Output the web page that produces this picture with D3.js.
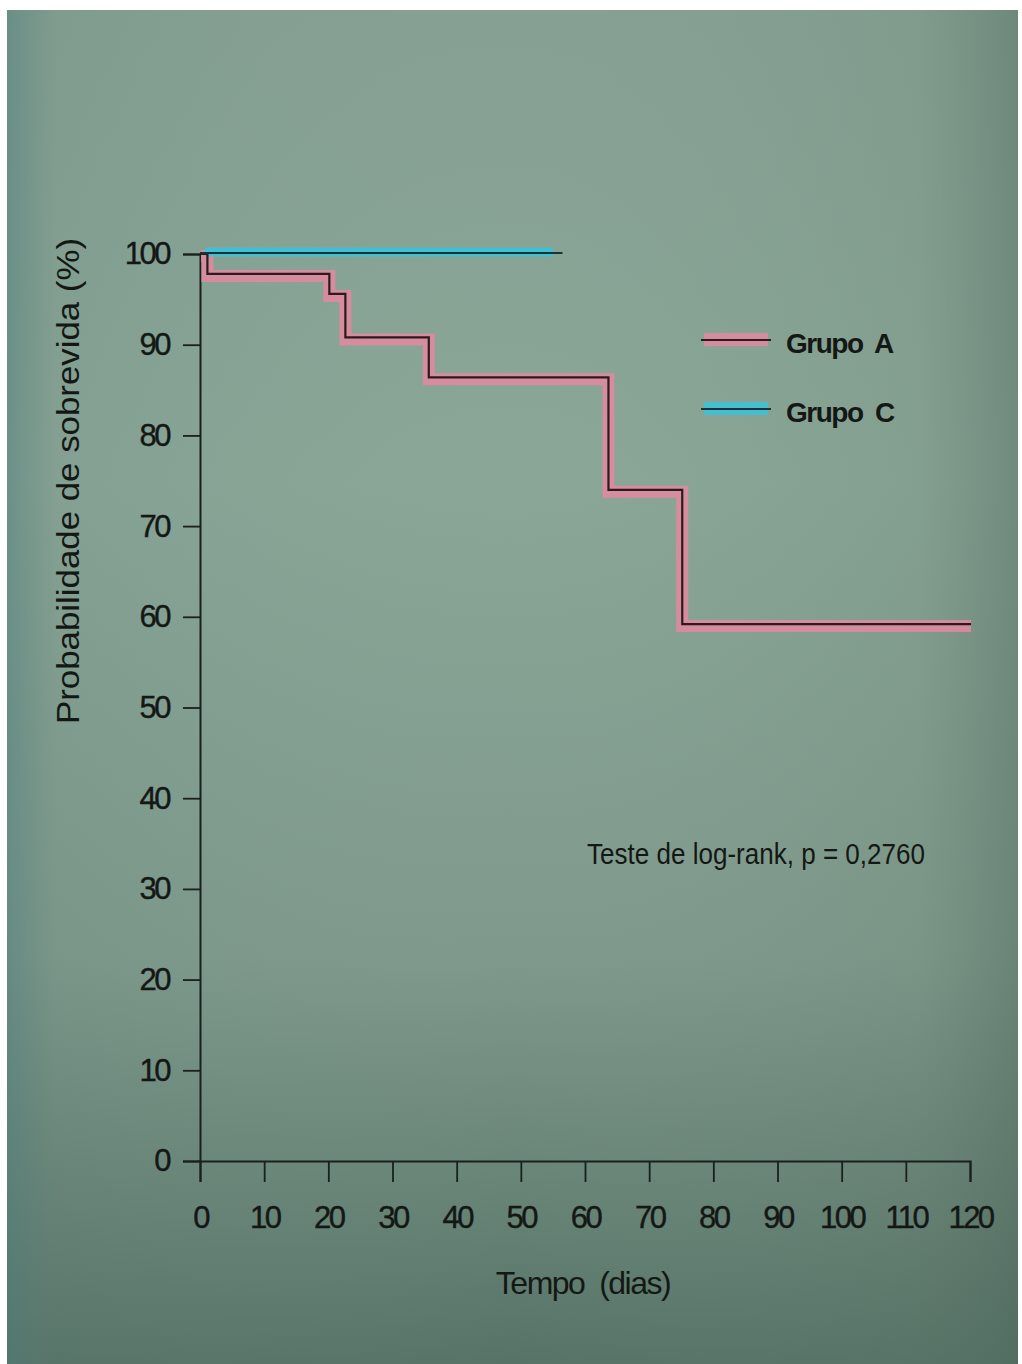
<!DOCTYPE html>
<html>
<head>
<meta charset="utf-8">
<script src="https://cdn.jsdelivr.net/npm/d3@7"></script>
<style>
body{margin:0;background:#fff;}
svg{display:block;}
text{font-family:"Liberation Sans",Arial,sans-serif;fill:#141815;}
</style>
</head>
<body>
<div id="chart"></div>
<script>
// survival data
var groupNames = ["Grupo  A", "Grupo  C"];
var timesA = [0, 1, 20, 22.5, 35.5, 63.5, 75, 120];
var survA = [100, 97.8, 95.6, 90.8, 86.4, 74.0, 59.2, 59.2];
var timesC = [0, 56.5];
var survC = [100, 100];
var xTicks = [0, 10, 20, 30, 40, 50, 60, 70, 80, 90, 100, 110, 120];
var yTicks = [0, 10, 20, 30, 40, 50, 60, 70, 80, 90, 100];
var xTitle = "Tempo  (dias)";
var yTitle = "Probabilidade de sobrevida (%)";
var pText = "Teste de log-rank, p = 0,2760";

var w = 1022, h = 1364;

var svg = d3.select("#chart").append("svg")
    .attr("width", w)
    .attr("height", h);

var defs = svg.append("defs");

var vg = defs.append("linearGradient").attr("id", "vgrad")
    .attr("x1", 0).attr("y1", 0).attr("x2", 0).attr("y2", 1);
vg.append("stop").attr("offset", "0%").attr("stop-color", "#86a193");
vg.append("stop").attr("offset", "35%").attr("stop-color", "#8aa697");
vg.append("stop").attr("offset", "70%").attr("stop-color", "#7f9a8c");
vg.append("stop").attr("offset", "100%").attr("stop-color", "#577367");

var hg = defs.append("linearGradient").attr("id", "hgrad")
    .attr("x1", 0).attr("y1", 0).attr("x2", 1).attr("y2", 0);
hg.append("stop").attr("offset", "0%").attr("stop-color", "#4d7a78").attr("stop-opacity", 0.5);
hg.append("stop").attr("offset", "5%").attr("stop-color", "#5f8078").attr("stop-opacity", 0.15);
hg.append("stop").attr("offset", "50%").attr("stop-color", "#8aa698").attr("stop-opacity", 0);
hg.append("stop").attr("offset", "90%").attr("stop-color", "#58705f").attr("stop-opacity", 0.12);
hg.append("stop").attr("offset", "100%").attr("stop-color", "#4a6258").attr("stop-opacity", 0.4);

svg.append("rect")
    .attr("x", 7).attr("y", 10)
    .attr("width", w - 11).attr("height", h - 10)
    .attr("fill", "url(#vgrad)");
svg.append("rect")
    .attr("x", 7).attr("y", 10)
    .attr("width", w - 11).attr("height", h - 10)
    .attr("fill", "url(#hgrad)");

var x = d3.scaleLinear().domain([0, 120]).range([200, 970]);
var y = d3.scaleLinear().domain([0, 100]).range([1161, 254]);

var line = d3.line()
    .x(function(d){ return x(d[0]); })
    .y(function(d){ return y(d[1]); })
    .curve(d3.curveStepAfter);

var dataA = timesA.map(function(t, i){ return [t, survA[i]]; });
var dataC = timesC.map(function(t, i){ return [t, survC[i]]; });

// axes
var xAxis = svg.append("g")
    .attr("transform", "translate(0," + y(0) + ")")
    .call(d3.axisBottom(x).tickValues(xTicks).tickSize(21).tickPadding(24));

var yAxis = svg.append("g")
    .attr("transform", "translate(" + x(0) + ",0)")
    .call(d3.axisLeft(y).tickValues(yTicks).tickSize(17).tickPadding(14));

[xAxis, yAxis].forEach(function(a){
    a.select(".domain").attr("stroke", "#1a201d").attr("stroke-width", 2);
    a.selectAll(".tick line").attr("stroke", "#1a201d").attr("stroke-width", 1.8);
    a.selectAll(".tick text")
        .style("font-family", "'Liberation Sans', Arial, sans-serif")
        .style("font-size", "31px")
        .style("letter-spacing", "-2.5px")
        .attr("fill", "#141815")
        .attr("stroke", "#141815")
        .attr("stroke-width", 0.4);
});

// curves: coloured marker band under a thin dark line
svg.append("path")
    .datum(dataA)
    .attr("d", line)
    .attr("transform", "translate(1,2)")
    .attr("fill", "none")
    .attr("stroke", "#e3899f")
    .attr("stroke-opacity", 0.85)
    .attr("stroke-width", 12);

svg.append("path")
    .datum([[0.8, 100], [55, 100]])
    .attr("d", line)
    .attr("transform", "translate(0,-2)")
    .attr("fill", "none")
    .attr("stroke", "#3cc2da")
    .attr("stroke-opacity", 0.9)
    .attr("stroke-width", 9);

svg.append("path")
    .datum(dataA)
    .attr("d", line)
    .attr("transform", "translate(1,0)")
    .attr("fill", "none")
    .attr("stroke", "#2b1b1e")
    .attr("stroke-width", 2.2);

svg.append("path")
    .datum(dataC)
    .attr("d", line)
    .attr("transform", "translate(0,-1)")
    .attr("fill", "none")
    .attr("stroke", "#1a3338")
    .attr("stroke-width", 2.2);

// legend
var legend = svg.append("g").attr("class", "legend");
var legColors = ["#e3899f", "#3cc2da"];
var legDark = ["#2b1b1e", "#1a3338"];
var legY = [340, 409];

groupNames.forEach(function(g, i){
    legend.append("rect")
        .attr("x", 704).attr("y", legY[i] - 7)
        .attr("width", 64).attr("height", 13)
        .attr("fill", legColors[i])
        .attr("fill-opacity", 0.85);
    legend.append("line")
        .attr("x1", 701).attr("x2", 771)
        .attr("y1", legY[i]).attr("y2", legY[i])
        .attr("stroke", legDark[i])
        .attr("stroke-width", 2.2);
    legend.append("text")
        .attr("x", 786).attr("y", legY[i] + 13)
        .style("font-size", "28px")
        .style("font-weight", "bold")
        .style("letter-spacing", "-1.5px")
        .style("white-space", "pre")
        .text(g);
});

// annotation
svg.append("text")
    .attr("x", 587).attr("y", 864)
    .attr("textLength", 338)
    .attr("lengthAdjust", "spacingAndGlyphs")
    .style("font-size", "29px")
    .text(pText);

// axis titles
svg.append("text")
    .attr("x", 583).attr("y", 1294)
    .style("text-anchor", "middle")
    .style("font-size", "32px")
    .style("letter-spacing", "-1.5px")
    .style("white-space", "pre")
    .text(xTitle);

svg.append("text")
    .attr("transform", "translate(79,481) rotate(-90)")
    .style("text-anchor", "middle")
    .style("font-size", "31px")
    .attr("textLength", 486)
    .attr("lengthAdjust", "spacingAndGlyphs")
    .text(yTitle);
</script>
</body>
</html>
